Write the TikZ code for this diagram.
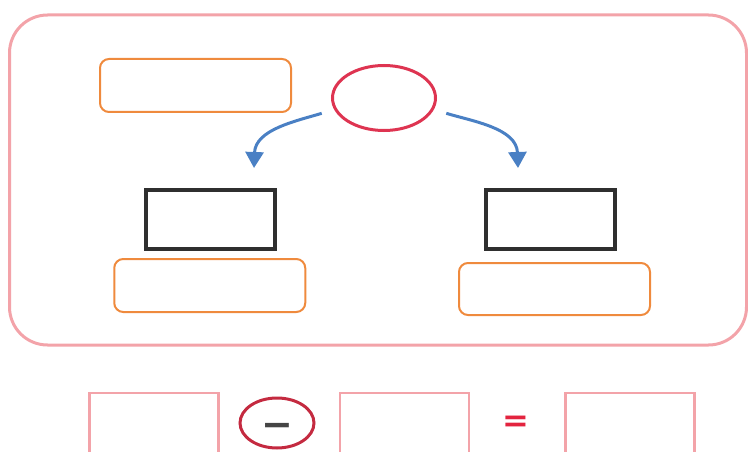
\documentclass[tikz,border=0pt]{standalone}
\usepackage{fontspec}
\newfontfamily\symfont{DejaVu Sans}
\usetikzlibrary{arrows.meta,shapes.geometric}
\definecolor{Blush}{HTML}{F3A3A9}
\definecolor{Tangerine}{HTML}{EF8A3D}
\definecolor{Ink}{HTML}{2F2F2F}
\definecolor{Crimson}{HTML}{DE3451}
\definecolor{Steel}{HTML}{4A80C4}
\definecolor{Wine}{HTML}{C42A40}
\definecolor{Slate}{HTML}{454545}
\definecolor{Scarlet}{HTML}{E3243F}

\begin{document}
\begin{tikzpicture}[x=1pt,y=1pt,
    panel/.style={draw=Blush,line width=3pt,rounded corners=38pt,inner sep=0pt},
    tag/.style={draw=Tangerine,line width=2pt,rounded corners=9pt,minimum width=191pt,minimum height=53pt,inner sep=0pt},
    slot/.style={draw=Ink,line width=4pt,minimum width=129pt,minimum height=59pt,inner sep=0pt},
    cell/.style={draw=Blush,line width=2.5pt,minimum width=129pt,minimum height=62pt,inner sep=0pt},
    flow/.style={draw=Steel,line width=3pt,shorten <=13pt,-{Triangle[width=18pt,length=16pt]}}]
    \useasboundingbox (0,0) rectangle (748,451);

    % upper panel
    \node[panel,minimum width=737pt,minimum height=330pt] (frame) at (378,271) {};
    \node[tag] (toptag) at (195.5,365.5) {};
    \node[draw=Crimson,ellipse,line width=3pt,minimum width=103pt,minimum height=65pt,inner sep=0pt] (hub) at (384,353) {};

    \node[slot] (leftslot) at (210.25,231.5) {};
    \node[slot] (rightslot) at (550.6,231.5) {};
    \node[tag] (lefttag) at (209.75,165.5) {};
    \node[tag,minimum height=52pt] (righttag) at (554.5,162) {};

    \coordinate (lefttip) at (254,283);
    \coordinate (righttip) at (518,283);
    \draw[flow] (hub.193.6) to[out=197,in=88] (lefttip);
    \draw[flow] (hub.-13.6) to[out=-17,in=92] (righttip);

    % number sentence
    \node[cell] (lhs) at (153.75,27.25) {};
    \node[draw=Wine,ellipse,line width=3pt,minimum width=74pt,minimum height=50pt,inner sep=0pt] (op) at (277,28) {};
    \node[anchor=base,inner sep=0pt,text=Slate,font=\symfont\bfseries\fontsize{38}{38}\selectfont] (minus) at (277,14) {−};
    \node[cell] (rhs) at (404.7,27.25) {};
    \node[text=Scarlet,inner sep=0pt,font=\symfont\bfseries\fontsize{32}{32}\selectfont] (eq) at (516,27) {=};
    \node[cell] (res) at (630,27.25) {};
\end{tikzpicture}
\end{document}
